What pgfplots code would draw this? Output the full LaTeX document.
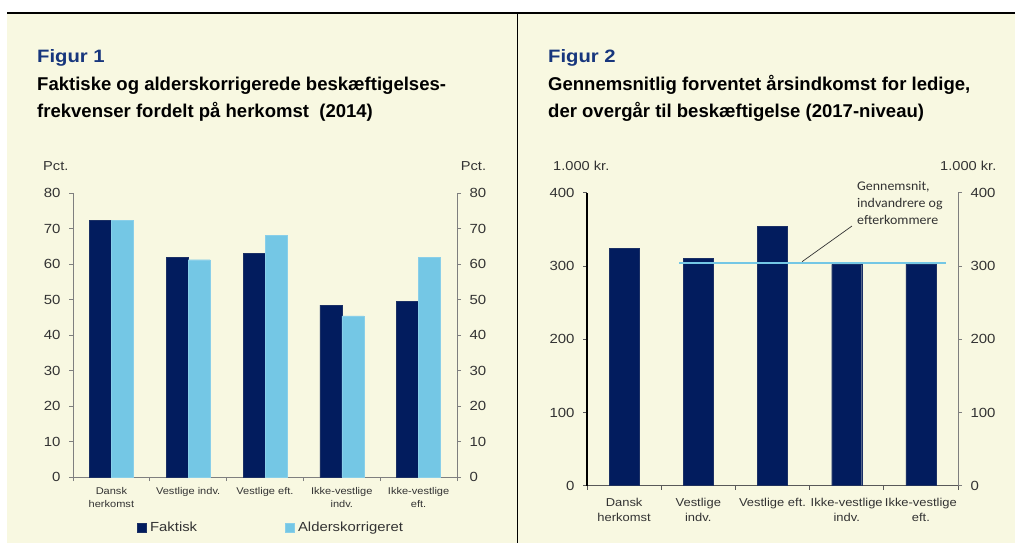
\documentclass[border=0pt]{standalone}
\usepackage{pgfplots}
\pgfplotsset{compat=1.18}
\usepackage{fontspec}
\setmainfont[FakeStretch=1.13]{Liberation Sans}
\newfontfamily\titlefont{Liberation Sans}
\newfontfamily\calfont[FakeStretch=1.05]{Carlito}

\definecolor{navy}{HTML}{021C5E}
\definecolor{sky}{HTML}{74C7E5}
\definecolor{cream}{HTML}{F8F8E1}
\definecolor{titleblue}{HTML}{17367D}
\definecolor{txt}{HTML}{333333}
\definecolor{axgray}{HTML}{7F7F7F}

\newcommand\fs[2]{\fontsize{#1}{#2}\selectfont}

% data
\pgfplotstableread{
x faktisk alders
0 72.3 72.3
1 61.9 61.2
2 63.1 68.1
3 48.4 45.4
4 49.4 61.9
}\figone
\pgfplotstableread{
x indk
0 324.3
1 310.6
2 354.4
3 302.0
4 303.0
}\figtwo

\pgfplotsset{
  base/.style={
    scale only axis, anchor=south west,
    xmin=-0.5, xmax=4.5,
    tick align=outside, major tick length=4bp,
    /pgf/number format/assume math mode=true,
    ticklabel style={text=txt},
    xtick={-0.5,0.5,...,4.5}, xticklabels={},
  },
}

\begin{document}
\begin{tikzpicture}
\path[use as bounding box] (0,0) rectangle (1015bp,-543bp);
\fill[cream] (7bp,-13.5bp) rectangle (1015bp,-543bp);
\draw[line width=1.4bp] (7bp,-13bp) -- (1015bp,-13bp);
\draw[line width=1.4bp] (517.3bp,-13bp) -- (517.3bp,-543bp);

% titles
\node[anchor=base west, inner sep=0, text=titleblue, font=\fs{18}{18}\bfseries] at (37bp,-62bp) {Figur 1};
\node[anchor=base west, inner sep=0, font=\titlefont\fs{18.6}{18}\bfseries] at (37bp,-90.7bp) {Faktiske og alderskorrigerede beskæftigelses-};
\node[anchor=base west, inner sep=0, font=\titlefont\fs{18.6}{18}\bfseries] at (37bp,-117.5bp) {frekvenser fordelt på herkomst\ \ (2014)};
\node[anchor=base west, inner sep=0, text=titleblue, font=\fs{18}{18}\bfseries] at (548bp,-62bp) {Figur 2};
\node[anchor=base west, inner sep=0, font=\titlefont\fs{18.6}{18}\bfseries] at (548bp,-90.7bp) {Gennemsnitlig forventet årsindkomst for ledige,};
\node[anchor=base west, inner sep=0, font=\titlefont\fs{18.6}{18}\bfseries] at (548bp,-117.5bp) {der overgår til beskæftigelse (2017-niveau)};

% unit labels
\node[anchor=base west, inner sep=0, text=txt, font=\fs{13}{13}] at (43bp,-170.5bp) {Pct.};
\node[anchor=base west, inner sep=0, text=txt, font=\fs{13}{13}] at (460.7bp,-170.5bp) {Pct.};
\node[anchor=base west, inner sep=0, text=txt, font=\fs{13}{13}] at (553bp,-170.5bp) {1.000 kr.};
\node[anchor=base west, inner sep=0, text=txt, font=\fs{13}{13}] at (940bp,-170.5bp) {1.000 kr.};

% ---------------- Figur 1 ----------------
\begin{axis}[base,
  at={(73bp,-477bp)}, width=384bp, height=284bp,
  ymin=0, ymax=80, ytick={0,10,...,80},
  axis y line*=left, axis x line*=bottom,
  axis line style={draw=axgray, line width=0.9bp},
  tick style={draw=axgray, line width=0.9bp},
  yticklabel style={font=\fs{13.3}{13.3}, xshift=-5bp},
  extra x ticks={0,1,2,3,4},
  extra x tick labels={{Dansk\\herkomst},{Vestlige indv.},{Vestlige eft.},{Ikke-vestlige\\indv.},{Ikke-vestlige\\eft.}},
  extra x tick style={major tick length=0pt,
    xticklabel style={align=center, font=\fs{9.8}{13}, text=txt, yshift=-7bp}},
  legend columns=2,
  legend style={draw=none, fill=none, at={(0.1667,-0.1785)}, anchor=west,
    font=\fs{13.2}{13.2}, text=txt, inner sep=0pt,
    /tikz/every even column/.append style={column sep=86bp}},
  legend image code/.code={\fill[#1] (0bp,-4.5bp) rectangle (9bp,4.5bp);},
]
\addplot[ybar, bar width=22bp, bar shift=-11bp, fill=navy, draw=navy!80!gray] table[x=x, y=faktisk] {\figone};
\addlegendentry{\hspace{1.5bp}Faktisk}
\addplot[ybar, bar width=22bp, bar shift=11bp, fill=sky, draw=sky!85!white] table[x=x, y=alders] {\figone};
\addlegendentry{\hspace{1.5bp}Alderskorrigeret}
\end{axis}
\begin{axis}[base,
  at={(73bp,-477bp)}, width=384bp, height=284bp,
  ymin=0, ymax=80, ytick={0,10,...,80},
  axis y line*=right, axis x line=none,
  axis line style={draw=axgray, line width=0.9bp},
  tick style={draw=axgray, line width=0.9bp},
  yticklabel style={font=\fs{13.3}{13.3}, xshift=5bp},
]
\end{axis}

% ---------------- Figur 2 ----------------
\begin{axis}[base,
  at={(587bp,-485.7bp)}, width=371bp, height=293bp,
  ymin=0, ymax=400, ytick={0,100,...,400},
  axis y line*=left, axis x line*=bottom,
  x axis line style={draw=axgray!70!black, line width=0.9bp},
  y axis line style={draw=black, line width=1.5bp},
  tick style={draw=axgray!70!black, line width=0.9bp},
  yticklabel style={font=\fs{13.3}{13.3}, xshift=-5bp},
  extra x ticks={0,1,2,3,4},
  extra x tick labels={{Dansk\\herkomst},{Vestlige\\indv.},{Vestlige eft.},{Ikke-vestlige\\indv.},{Ikke-vestlige\\eft.}},
  extra x tick style={major tick length=0pt,
    xticklabel style={align=center, font=\fs{11.5}{15}, text=txt, yshift=-9bp}},
]
\addplot[ybar, bar width=30bp, bar shift=0bp, fill=navy, draw=navy!80!gray] table[x=x, y=indk] {\figtwo};
\addplot[sky, line width=2.5bp] coordinates {(0.74,303.8) (4.34,303.8)};
\draw[black!80, line width=0.7bp] (axis cs:2.398,305.8) -- (axis cs:3.071,354.5);
\end{axis}
\begin{axis}[base,
  at={(587bp,-485.7bp)}, width=371bp, height=293bp,
  ymin=0, ymax=400, ytick={0,100,...,400},
  axis y line*=right, axis x line=none,
  axis line style={draw=axgray, line width=0.9bp},
  tick style={draw=axgray, line width=0.9bp},
  yticklabel style={font=\fs{13.3}{13.3}, xshift=5bp},
]
\end{axis}

% annotation text
\node[anchor=base west, inner sep=0, text=txt, font=\calfont\fs{13.3}{13.3}] at (857bp,-190bp) {Gennemsnit,};
\node[anchor=base west, inner sep=0, text=txt, font=\calfont\fs{13.3}{13.3}] at (857bp,-207.3bp) {indvandrere og};
\node[anchor=base west, inner sep=0, text=txt, font=\calfont\fs{13.3}{13.3}] at (857bp,-224bp) {efterkommere};
\end{tikzpicture}
\end{document}
